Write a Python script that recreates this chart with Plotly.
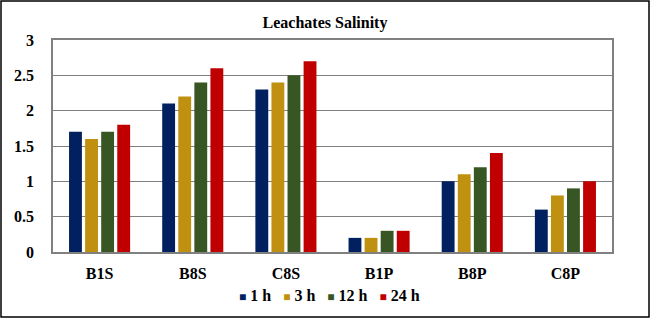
import plotly.graph_objects as go

categories = ["B1S", "B8S", "C8S", "B1P", "B8P", "C8P"]
series_names = ["1 h", "3 h", "12 h", "24 h"]
v_1h = [1.7, 2.1, 2.3, 0.2, 1.0, 0.6]
v_3h = [1.6, 2.2, 2.4, 0.2, 1.1, 0.8]
v_12h = [1.7, 2.4, 2.5, 0.3, 1.2, 0.9]
v_24h = [1.8, 2.6, 2.7, 0.3, 1.4, 1.0]
colors = ["#002060", "#C09010", "#375623", "#C00000"]

W, H = 651, 319
L, R, T, B = 53, 39, 40, 67
FONT = "Liberation Serif"

fig = go.Figure()
for name, vals, c in zip(series_names, [v_1h, v_3h, v_12h, v_24h], colors):
    fig.add_trace(go.Bar(x=categories, y=vals, name=name, marker=dict(color=c, line=dict(width=0))))

pw = W - L - R
ph = H - T - B
fig.add_shape(type="rect", xref="paper", yref="paper",
              x0=(1 - L) / pw, x1=(W - 2 - L) / pw,
              y0=(H - B - (H - 2)) / ph, y1=(H - B - 1) / ph,
              line=dict(color="black", width=1.5), fillcolor="rgba(0,0,0,0)", layer="above")

# manual legend
legend_text = "&nbsp;&nbsp;&nbsp;".join(
    f"<span style='color:{c};font-size:12px'>■</span>&nbsp;<b>{n}</b>" for n, c in zip(series_names, colors)
)
fig.add_annotation(text=legend_text, xref="paper", yref="paper",
                   x=(329 - L) / pw, y=-(295 - (H - B)) / ph, xanchor="center", yanchor="middle",
                   showarrow=False, font=dict(family=FONT, size=16, color="black"))

fig.update_layout(
    width=W, height=H,
    margin=dict(l=L, r=R, t=T, b=B, autoexpand=False),
    paper_bgcolor="white", plot_bgcolor="white",
    barmode="group", bargap=0.31, bargroupgap=0.2,
    showlegend=False,
    font=dict(family=FONT, size=15, color="black"),
    title=dict(text="<b>Leachates Salinity</b>", x=(325 - L) / pw, xref="paper", xanchor="center",
               y=1 - 22 / H, yanchor="middle",
               font=dict(family=FONT, size=16, color="black")),
    xaxis=dict(showline=True, linecolor="#808080", linewidth=1.5, mirror=True,
               tickfont=dict(family=FONT, size=16, color="black"),
               tickprefix="<b>", ticksuffix="</b>", ticks="", ticklabelstandoff=6),
    yaxis=dict(range=[0, 3], dtick=0.5, showline=True, linecolor="#808080", linewidth=1.5, mirror=True,
               showgrid=True, gridcolor="#808080", gridwidth=1,
               tickfont=dict(family=FONT, size=16, color="black"),
               tickprefix="<b>", ticksuffix="</b>", ticks="", zeroline=False, ticklabelstandoff=14),
)

fig.write_html("out.html", config={"displayModeBar": False},
               post_script="document.body.style.margin='0';document.body.style.overflow='hidden';")
